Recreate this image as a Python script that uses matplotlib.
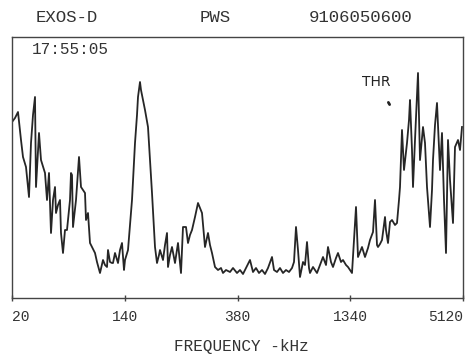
import matplotlib
matplotlib.use("Agg")
import matplotlib.pyplot as plt
import numpy as np

# Frequency channel (equal spacing between labelled ticks) and relative amplitude
channel = [0, 3, 6, 9, 11, 14, 17, 19, 21, 23, 24, 27, 29, 32, 33, 35, 37, 39, 41, 43, 44, 46, 48, 49,
           51, 53, 55, 58, 59, 60, 61, 64, 67, 69, 73, 74, 76, 78, 80, 83, 85, 88, 91, 93, 95, 96,
           98, 100, 101, 103, 106, 108, 110, 112, 113, 116, 118, 120, 123, 125, 126, 128, 129, 131,
           133, 136, 138, 140, 142, 143, 145, 147, 148, 151, 153, 155, 156, 158, 160, 163, 166, 169,
           171, 174, 176, 178, 180, 183, 186, 188, 190, 193, 196, 198, 200, 203, 206, 209, 211, 214,
           218, 221, 225, 228, 231, 234, 238, 241, 244, 247, 250, 253, 256, 260, 262, 265, 268, 271,
           274, 277, 280, 282, 284, 286, 288, 291, 293, 295, 297, 298, 301, 305, 308, 311, 314, 316,
           319, 321, 324, 326, 329, 331, 334, 336, 338, 340, 342, 344, 346, 348, 350, 353, 356, 358,
           361, 363, 365, 366, 368, 370, 373, 374, 376, 378, 380, 383, 385, 387, 388, 390, 392, 395,
           397, 398, 400, 401, 403, 406, 408, 411, 413, 415, 418, 420, 421, 423, 425, 428, 430, 432,
           434, 436, 438, 441, 443, 446, 448, 450]
amplitude = [176, 180, 186, 158, 141, 131, 101, 155, 183, 201, 111, 165, 138, 128, 125, 98, 125, 65, 98,
             111, 85, 93, 98, 65, 45, 68, 68, 98, 125, 123, 71, 98, 141, 111, 105, 78, 85, 55, 51, 45,
             36, 25, 38, 33, 31, 48, 36, 35, 35, 45, 35, 48, 55, 28, 38, 48, 73, 98, 155, 183, 201,
             216, 208, 198, 188, 171, 138, 105, 68, 51, 35, 43, 48, 38, 53, 65, 31, 43, 51, 35, 55,
             25, 71, 71, 55, 63, 68, 81, 95, 90, 85, 51, 65, 53, 45, 31, 28, 30, 25, 28, 26, 30, 25,
             28, 24, 30, 38, 26, 30, 25, 28, 24, 30, 41, 28, 26, 30, 25, 28, 26, 30, 36, 71, 48, 21,
             36, 33, 56, 30, 25, 31, 25, 33, 41, 33, 51, 36, 31, 40, 45, 36, 38, 33, 31, 28, 25, 58,
             91, 41, 46, 51, 41, 50, 58, 66, 98, 53, 51, 54, 58, 81, 68, 55, 76, 78, 73, 75, 98, 111,
             168, 128, 155, 178, 198, 148, 111, 158, 225, 138, 171, 155, 111, 71, 108, 138, 173, 195,
             128, 165, 98, 45, 158, 118, 75, 151, 158, 148, 171]

tick_labels = ["20", "140", "380", "1340", "5120"]
header_left, header_mid, header_right = "EXOS-D", "PWS", "9106050600"
time_label = "17:55:05"

W, H = 465, 354
fig = plt.figure(figsize=(W / 100, H / 100), dpi=100)
ax = fig.add_axes([12 / W, 1 - 298 / H, 451 / W, 261 / H])

ink = "#262626"
ax.plot(channel, amplitude, color=ink, lw=1.3)

mono = "Liberation Mono"
ax.set_xlim(0, 451)
ax.set_ylim(0, 261)
ax.set_xticks(np.linspace(0, 451, len(tick_labels)))
ax.set_xticklabels(tick_labels)
ax.set_yticks([])
ax.tick_params(axis="x", direction="inout", length=5, width=1, color="#444444",
               pad=6, labelsize=10.5, labelcolor="#333333")
labels = ax.get_xticklabels()
for lbl in labels:
    lbl.set_family(mono)
labels[0].set_ha("left")
labels[-1].set_ha("right")
for s in ax.spines.values():
    s.set_color("#444444")
    s.set_linewidth(1.0)

fig.text(67 / W, 1 - 18 / H, header_left, family=mono, fontsize=12.5, color="#333333",
         ha="center", va="center")
fig.text(215 / W, 1 - 18 / H, header_mid, family=mono, fontsize=12.5, color="#333333",
         ha="center", va="center")
fig.text(361 / W, 1 - 18 / H, header_right, family=mono, fontsize=12.5, color="#333333",
         ha="center", va="center")
fig.text(70 / W, 1 - 50 / H, time_label, family=mono, fontsize=11.5, color="#333333",
         ha="center", va="center")
fig.text(241 / W, 1 - 346 / H, "FREQUENCY -kHz", family=mono, fontsize=11.5, color="#333333",
         ha="center", va="center")
fig.text(376 / W, 1 - 82 / H, "THR", family="DejaVu Sans", fontsize=10, fontweight="medium",
         color="#222222", ha="center", va="center")
ax.annotate("", xy=(391 / W, 1 - 107 / H), xytext=(387 / W, 1 - 100 / H),
            xycoords="figure fraction", textcoords="figure fraction",
            arrowprops=dict(arrowstyle="-", color="#222222", lw=2))

fig.savefig("out.png", dpi=100)
